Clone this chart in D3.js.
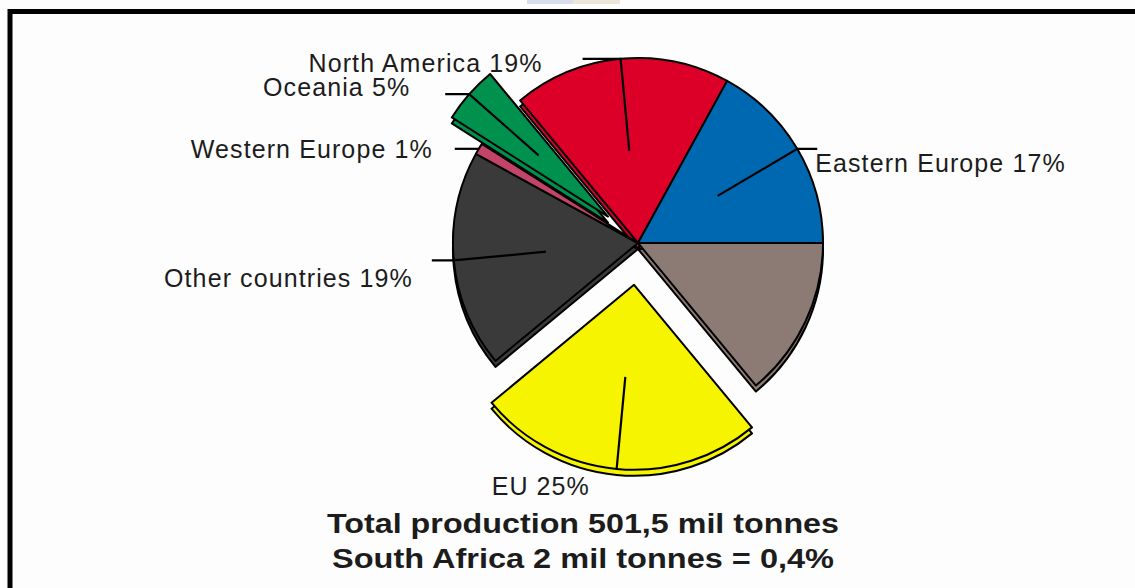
<!DOCTYPE html>
<html lang="en">
<head>
  <meta charset="UTF-8">
  <title>Production share pie</title>
  <script src="https://d3js.org/d3.v7.min.js"></script>
  <style>
    body { margin: 0; background: #fdfdfd; }
    text { font-family: "Liberation Sans", Arial, sans-serif; fill: #1c1c1c; }
  </style>
</head>
<body>
<div id="chart"></div>
<script>
// slices, clockwise from 3 o'clock
const regions = ["Unlabelled", "EU", "Other countries", "Western Europe", "Oceania", "North America", "Eastern Europe"];
const shares  = [14, 25, 19, 1, 5, 19, 17];
const colors  = ["#8b7b74", "#f7f400", "#3a3a3a", "#c24569", "#00914f", "#dc0028", "#0067b1"];
const explode = [0, 42, 0, 0, 40, 0, 0];
const labels  = ["", "EU 25%", "Other countries 19%", "Western Europe 1%", "Oceania 5%", "North America 19%", "Eastern Europe 17%"];
const footer  = ["Total production 501,5 mil tonnes", "South Africa 2 mil tonnes = 0,4%"];

// leader layout: inner radius (fraction of R), horizontal tick, label offset from tick end
const leader = {
  "EU":              {r0: 0.5, tick: 0,   dx: -125, dy: 26, anchor: "start"},
  "Other countries": {r0: 0.5, tick: -22, dx: -19,  dy: 27, anchor: "end"},
  "Western Europe":  {r0: 1.0, tick: -24, dx: -22,  dy: 9,  anchor: "end"},
  "Oceania":         {r0: 0.5, tick: -24, dx: -35,  dy: 2,  anchor: "end"},
  "North America":   {r0: 0.5, tick: -38, dx: -40,  dy: 13, anchor: "end"},
  "Eastern Europe":  {r0: 0.5, tick: 20,  dx: -2,   dy: 23, anchor: "start"}
};

const width = 1135, height = 588;
const cx = 638, cy = 243, R = 185;
const depth = [0, 6];

const svg = d3.select("#chart").append("svg")
  .attr("width", width)
  .attr("height", height);

svg.append("rect").attr("width", width).attr("height", height).attr("fill", "#fdfdfd");
// faint scan artefact at the top
svg.append("rect").attr("x", 527).attr("y", 0).attr("width", 46).attr("height", 4).attr("fill", "#d9dcec");
svg.append("rect").attr("x", 573).attr("y", 0).attr("width", 47).attr("height", 4).attr("fill", "#ece6da");
// frame
svg.append("path")
  .attr("d", `M10,${height} L10,11.5 L${width},11.5`)
  .attr("fill", "none").attr("stroke", "#000").attr("stroke-width", 5);

const pie = d3.pie().sort(null).value(d => d)
  .startAngle(Math.PI / 2).endAngle(Math.PI / 2 + 2 * Math.PI);
const arcs = pie(shares);
const arc = d3.arc().innerRadius(0).outerRadius(R);

const mid = d => (d.startAngle + d.endAngle) / 2;
const shift = (d, i) => {
  const a = mid(d);
  return [Math.sin(a) * explode[i], -Math.cos(a) * explode[i]];
};

const g = svg.append("g").attr("transform", `translate(${cx},${cy})`);

// depth layer
g.append("g").selectAll("path").data(arcs).join("path")
  .attr("transform", (d, i) => { const s = shift(d, i); return `translate(${s[0] + depth[0]},${s[1] + depth[1]})`; })
  .attr("d", arc)
  .attr("fill", (d, i) => colors[i])
  .attr("stroke", "#000").attr("stroke-width", 2).attr("stroke-linejoin", "round");

// top layer
g.append("g").selectAll("path").data(arcs).join("path")
  .attr("transform", (d, i) => { const s = shift(d, i); return `translate(${s[0]},${s[1]})`; })
  .attr("d", arc)
  .attr("fill", (d, i) => colors[i])
  .attr("stroke", "#000").attr("stroke-width", 2).attr("stroke-linejoin", "round");

// leaders and labels
arcs.forEach((d, i) => {
  const L = leader[regions[i]];
  if (!L) return;
  const s = shift(d, i), a = mid(d);
  const p0 = [s[0] + Math.sin(a) * R * L.r0, s[1] - Math.cos(a) * R * L.r0];
  const p1 = [s[0] + Math.sin(a) * R, s[1] - Math.cos(a) * R];
  const p2 = [p1[0] + L.tick, p1[1]];
  g.append("path")
    .attr("d", d3.line()([p0, p1, p2]))
    .attr("fill", "none").attr("stroke", "#000").attr("stroke-width", 2.2);
  g.append("text")
    .attr("x", p2[0] + L.dx).attr("y", p2[1] + L.dy)
    .attr("text-anchor", L.anchor)
    .attr("font-size", 25)
    .attr("letter-spacing", 1.1)
    .text(labels[i]);
});

// footer lines
const footerWidth = [512, 502];
svg.selectAll("text.footer").data(footer).join("text")
  .attr("class", "footer")
  .attr("x", 583).attr("y", (d, i) => 533 + i * 35)
  .attr("text-anchor", "middle")
  .attr("font-size", 27).attr("font-weight", "bold")
  .attr("textLength", (d, i) => footerWidth[i])
  .attr("lengthAdjust", "spacingAndGlyphs")
  .text(d => d);
</script>
</body>
</html>
